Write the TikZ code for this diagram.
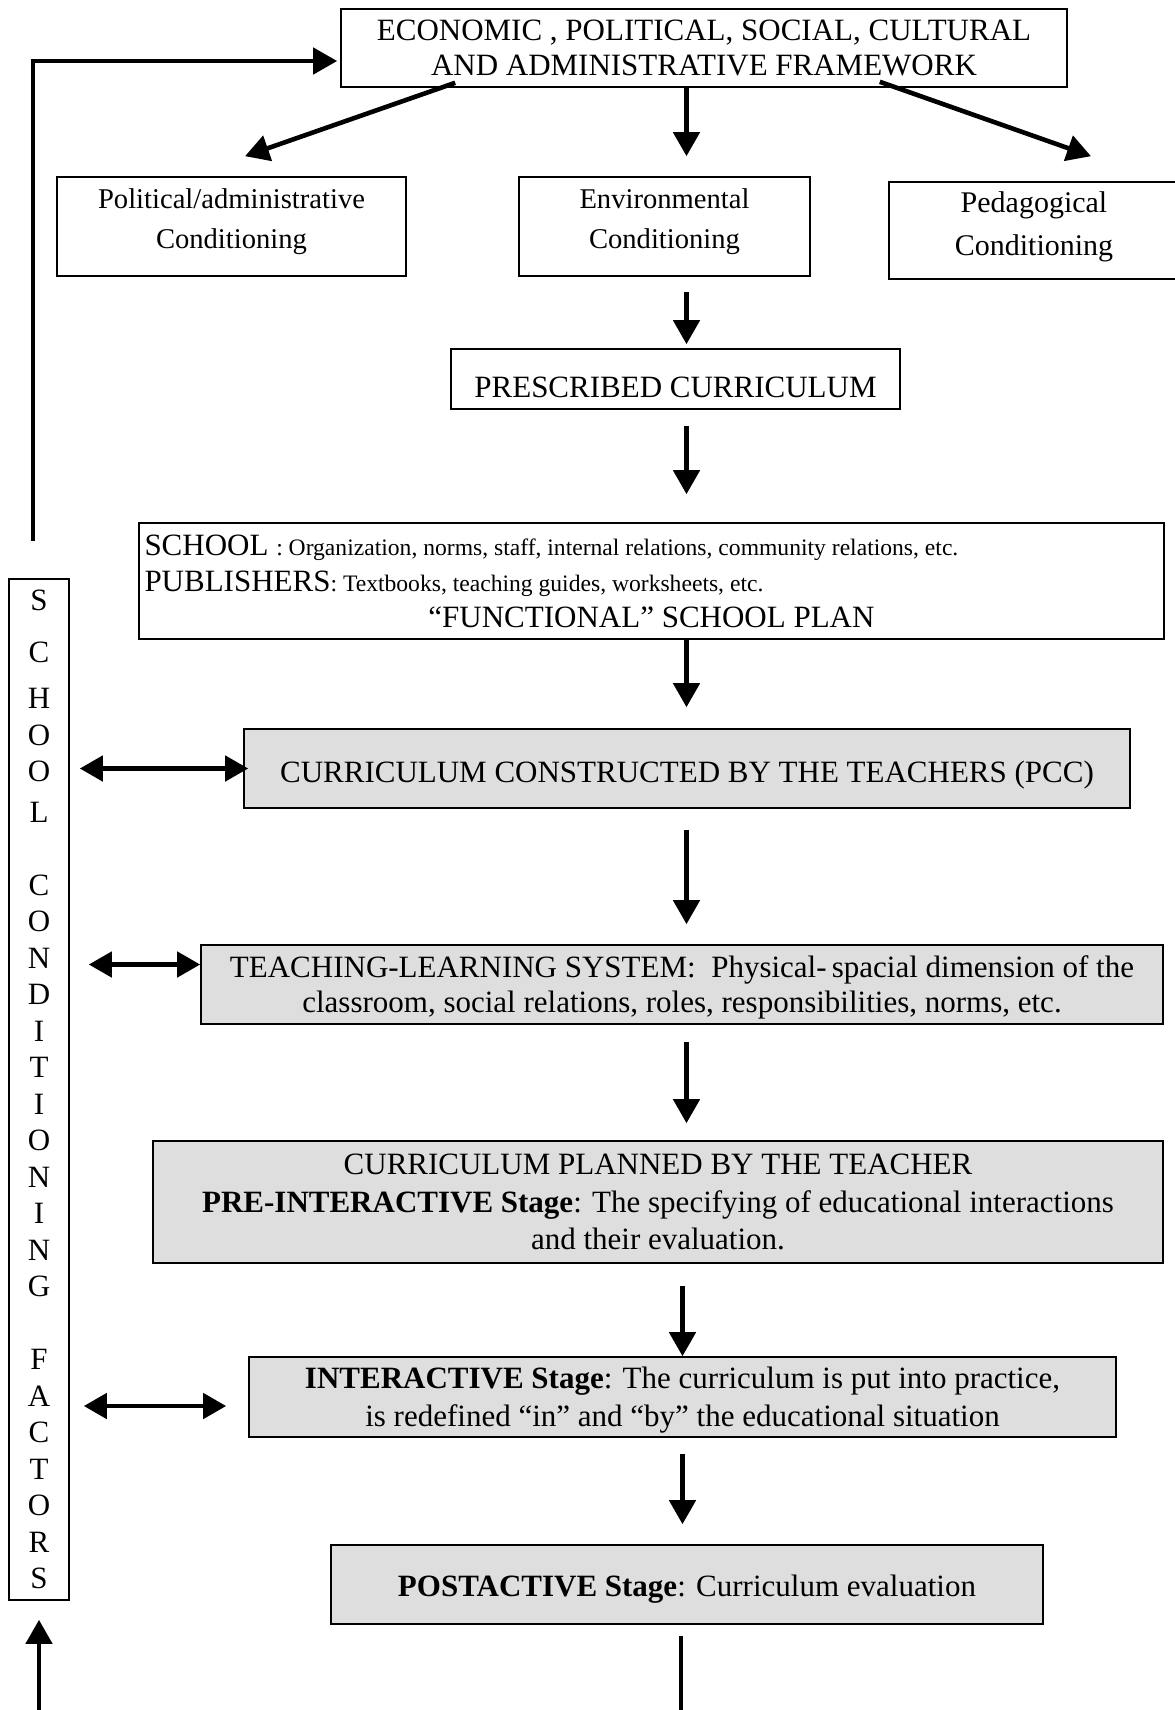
\documentclass[tikz,border=0pt]{standalone}
\usepackage{fontspec}
\setmainfont{Liberation Serif}
\usetikzlibrary{arrows.meta}
\definecolor{stagegray}{RGB}{222,222,222}
\newcommand{\schooldetail}[1]{{\fontsize{11.8}{18}\selectfont #1}}

\begin{document}
\begin{tikzpicture}[x=0.5pt, y=-0.5pt,
    box/.style={draw, line width=0.8pt, inner sep=0pt, align=center, font=\fontsize{15.5}{17.5}\selectfont},
    cond/.style={box, minimum height=49.5pt, text depth=8pt, font=\fontsize{14.3}{20}\selectfont},
    stage/.style={box, fill=stagegray},
    arr/.style={-{Triangle[length=12pt,width=13pt]}, line width=2.3pt},
    dbl/.style={{Triangle[length=11.5pt,width=12.5pt]}-{Triangle[length=11.5pt,width=12.5pt]}, line width=2.3pt}]
    \useasboundingbox (0,0) rectangle (1174,1710);

    \node[box, minimum width=363pt, minimum height=39pt] (frame) at (704,48) {ECONOMIC , POLITICAL, SOCIAL, CULTURAL\\AND ADMINISTRATIVE FRAMEWORK};
    \node[cond, minimum width=174.5pt] (pol) at (231.5,226.5) {Political/administrative\\Conditioning};
    \node[cond, minimum width=145.5pt] (env) at (664.5,226.5) {Environmental\\Conditioning};
    \node[cond, minimum width=145pt, minimum height=48.5pt, text depth=7.3pt, font=\fontsize{15}{21.5}\selectfont] (ped) at (1034,230.5) {Pedagogical\\Conditioning};
    \node[box, minimum width=224.5pt, minimum height=30pt, text height=18pt, text depth=0pt] (presc) at (675.5,379) {PRESCRIBED CURRICULUM};
    \node[box, minimum width=512.5pt, minimum height=58pt, align=left, inner xsep=2.75pt, font=\fontsize{15.5}{18}\selectfont] (school) at (651.5,581) {SCHOOL \schooldetail{: Organization, norms, staff, internal relations, community relations, etc.}\\PUBLISHERS\schooldetail{: Textbooks, teaching guides, worksheets, etc.}\\\makebox[507pt][c]{“FUNCTIONAL” SCHOOL PLAN}};
    \node[stage, minimum width=443pt, minimum height=39.5pt, text height=13.5pt, text depth=0pt] (pcc) at (687,768.5) {CURRICULUM CONSTRUCTED BY THE TEACHERS (PCC)};
    \node[stage, minimum width=481pt, minimum height=39.5pt, text depth=0pt] (tl) at (682,984.5) {TEACHING-LEARNING SYSTEM:~~Physical-\,spacial dimension of the\\classroom, social relations, roles, responsibilities, norms, etc.};
    \node[stage, minimum width=505pt, minimum height=61pt, font=\fontsize{15.5}{18.75}\selectfont] (planned) at (658,1202) {CURRICULUM PLANNED BY THE TEACHER\\\textbf{PRE-INTERACTIVE Stage}: The specifying of educational interactions\\and their evaluation.};
    \node[stage, minimum width=433.5pt, minimum height=40pt, text depth=0pt, font=\fontsize{15.5}{19}\selectfont] (inter) at (682.5,1397) {\textbf{INTERACTIVE Stage}: The curriculum is put into practice,\\is redefined “in” and “by” the educational situation};
    \node[stage, minimum width=356pt, minimum height=39.5pt, text height=11.5pt, text depth=0pt] (post) at (687,1584.5) {\textbf{POSTACTIVE Stage}: Curriculum evaluation};
    \node[box, minimum width=30pt, minimum height=510.5pt, font=\fontsize{15.5}{18.25}\selectfont] (factors) at (39,1089.5) {S\\[7.75pt]C\\[4.75pt]H\\O\\O\\[2pt]L\\[18.25pt]C\\O\\N\\D\\I\\T\\I\\O\\N\\I\\N\\G\\[18.25pt]F\\A\\C\\T\\O\\R\\S};

    % framework to the three conditionings
    \coordinate (spine) at (686.5,0);
    \draw[arr] ([xshift=57.5pt,yshift=2.5pt]frame.south west) -- ([xshift=6.75pt,yshift=10pt]pol.north);
    \draw[arr, shorten >=10pt] (frame.south -| spine) -- (env.north -| spine);
    \draw[arr] ([xshift=-94pt,yshift=3pt]frame.south east) -- ([xshift=28.5pt,yshift=12.5pt]ped.north);

    % down the middle
    \draw[arr, shorten <=7.5pt, shorten >=2pt] (env.south -| spine) -- (presc.north -| spine);
    \draw[arr, shorten <=8pt, shorten >=14pt] (presc.south -| spine) -- (school.north -| spine);
    \draw[arr, shorten >=10.5pt] (school.south -| spine) -- (pcc.north -| spine);
    \draw[arr, shorten <=10.5pt, shorten >=10pt] (pcc.south -| spine) -- (tl.north -| spine);
    \draw[arr, shorten <=8.5pt, shorten >=8.5pt] (tl.south -| spine) -- (planned.north -| spine);
    \draw[arr, shorten <=11pt] (planned.south -| inter.north) -- (inter.north);
    \draw[arr, shorten <=8pt, shorten >=10pt] (inter.south) -- (post.north -| inter.south);

    % back round to the school factors, and up to the framework
    \draw[arr, shorten <=5.5pt, shorten >=9.5pt] ([xshift=-3pt]post.south) -- ++(0,110) -| (factors.south);
    \draw[arr, shorten >=1.5pt] ([xshift=-3pt,yshift=18.75pt]factors.north) |- ([yshift=-6.5pt]frame.west);

    % two-way links
    \draw[dbl, shorten <=5pt, shorten >=-2.5pt] (factors.east |- pcc.west) -- (pcc.west);
    \draw[dbl, shorten <=9.5pt] ([yshift=10pt]factors.east |- tl.west) -- ([yshift=10pt]tl.west);
    \draw[dbl, shorten <=7pt, shorten >=11pt] ([yshift=-4.5pt]factors.east |- inter.west) -- ([yshift=-4.5pt]inter.west);
\end{tikzpicture}
\end{document}
